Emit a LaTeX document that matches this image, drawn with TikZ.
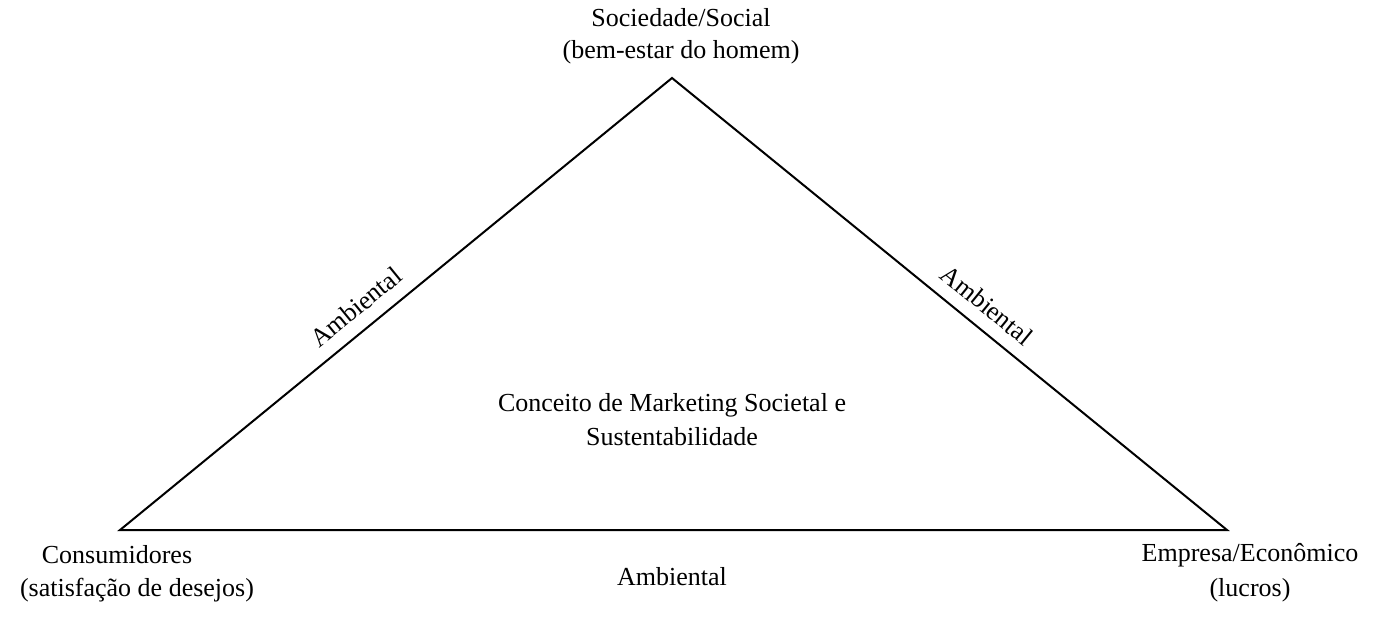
\documentclass[tikz,border=0pt]{standalone}
\usepackage{fontspec}
\setmainfont{Liberation Serif}
\begin{document}
\begin{tikzpicture}[x=0.75pt,y=-0.75pt,lbl/.style={font=\fontsize{19.5}{23}\selectfont,inner sep=0pt,align=center}]
\useasboundingbox (0,0) rectangle (1378,618);
\coordinate (A) at (672,78);
\coordinate (L) at (120,530);
\coordinate (R) at (1227,530);
\draw[line width=1.5pt] (A) -- (L) -- (R) -- cycle;
\node[lbl] (t1) at (681,18) {Sociedade/Social};
\node[lbl] (t2) at (681,52) {(bem-estar do homem)};
\node[lbl] (l1) at (117,555) {Consumidores};
\node[lbl] (l2) at (137,590) {(satisfação de desejos)};
\node[lbl] (r1) at (1250,555) {Empresa/Econômico};
\node[lbl] (r2) at (1250,590) {(lucros)};
\node[lbl] (b) at (672,577) {Ambiental};
\node[lbl] (c1) at (672,405) {Conceito de Marketing Societal e};
\node[lbl] (c2) at (672,437) {Sustentabilidade};
\node[lbl,rotate=39.3] (la) at (356,307) {Ambiental};
\node[lbl,rotate=-39.2] (ra) at (987,305) {Ambiental};
\end{tikzpicture}
\end{document}
